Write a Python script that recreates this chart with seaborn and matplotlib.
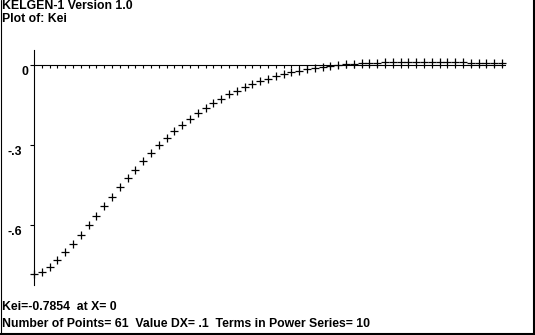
import matplotlib
matplotlib.use("Agg")
import matplotlib.pyplot as plt
import seaborn as sns
import pandas as pd
from matplotlib.lines import Line2D

x_vals = [0.0, 0.1, 0.2, 0.3, 0.4, 0.5, 0.6, 0.7, 0.8, 0.9,
          1.0, 1.1, 1.2, 1.3, 1.4, 1.5, 1.6, 1.7, 1.8, 1.9,
          2.0, 2.1, 2.2, 2.3, 2.4, 2.5, 2.6, 2.7, 2.8, 2.9,
          3.0, 3.1, 3.2, 3.3, 3.4, 3.5, 3.6, 3.7, 3.8, 3.9,
          4.0, 4.1, 4.2, 4.3, 4.4, 4.5, 4.6, 4.7, 4.8, 4.9,
          5.0, 5.1, 5.2, 5.3, 5.4, 5.5, 5.6, 5.7, 5.8, 5.9, 6.0]
kei_vals = [-0.7854, -0.7769, -0.7581, -0.7331, -0.7038, -0.6716, -0.6374, -0.6022, -0.5664, -0.5305,
            -0.4950, -0.4601, -0.4262, -0.3933, -0.3617, -0.3314, -0.3026, -0.2752, -0.2494, -0.2251,
            -0.2024, -0.1812, -0.1614, -0.1431, -0.1262, -0.1107, -0.0964, -0.0834, -0.0716, -0.0608,
            -0.0511, -0.0420, -0.0340, -0.0270, -0.0207, -0.0152, -0.0105, -0.0063, -0.0027, -0.0004,
            0.0029, 0.0050, 0.0067, 0.0081, 0.0092, 0.0100, 0.0106, 0.0110, 0.0112, 0.0113,
            0.0112, 0.0111, 0.0108, 0.0105, 0.0101, 0.0097, 0.0092, 0.0087, 0.0082, 0.0077, 0.0072]
y_ticks = [0.0, -0.3, -0.6]
y_tick_labels = ["0", "-.3", "-.6"]
title_lines = ["KELGEN-1 Version 1.0", "Plot of: Kei"]
footer_lines = ["Kei=-0.7854  at X= 0",
                "Number of Points= 61  Value DX= .1  Terms in Power Series= 10"]

sns.set_style("white")
plt.rcParams['font.family'] = ['Liberation Sans', 'DejaVu Sans']

W, H = 535, 335
fig = plt.figure(figsize=(W / 100, H / 100), dpi=100)
fig.patch.set_facecolor("white")
ax = fig.add_axes([0, 0, 1, 1])
ax.set_facecolor("white")

# pixel mapping: x=0 -> px 34, 78 px per unit; y=0 -> px 65, 266 px per unit
x0, xs = 34, 78.0
y0, ys = 65, 266.0
ax.set_xlim(-x0 / xs, (W - x0) / xs)
ax.set_ylim(-(H - y0) / ys, y0 / ys)

df = pd.DataFrame({"x": x_vals, "kei": kei_vals})
sns.scatterplot(data=df, x="x", y="kei", marker="+", s=30, color="black",
                linewidth=0.9, ax=ax, zorder=3)

# axes lines through origin
for s in ["top", "right"]:
    ax.spines[s].set_visible(False)
ax.spines["left"].set_position(("data", 0))
ax.spines["bottom"].set_position(("data", 0))
ax.spines["left"].set_bounds(-220 / ys, 15 / ys)
ax.spines["bottom"].set_bounds(0, 6.04)
for s in ["left", "bottom"]:
    ax.spines[s].set_linewidth(0.8)
    ax.spines[s].set_color("black")
    ax.spines[s].set_zorder(2)

ax.set_xticks(x_vals[1:])
ax.set_xticklabels([])
ax.set_yticks(y_ticks)
ax.set_yticklabels([])
ax.tick_params(axis="x", direction="out", length=2.2, width=0.8, color="black",
               bottom=True)
ax.tick_params(axis="y", direction="out", length=3.0, width=0.8, color="black",
               left=True)
ax.set_xlabel("")
ax.set_ylabel("")
ax.grid(False)

tfont = dict(fontsize=8.8, fontweight="bold", color="black")
for v, lbl in zip(y_ticks, y_tick_labels):
    dx = -12 if lbl == "0" else -27
    ax.annotate(lbl, xy=(0, v), xytext=(dx, -7), textcoords="offset pixels",
                ha="left", va="center", **tfont)

fig.text(2 / W, 1 - 6 / H, title_lines[0], ha="left", va="center", **tfont)
fig.text(2 / W, 1 - 19 / H, title_lines[1], ha="left", va="center", **tfont)
fig.text(2 / W, 1 - 307 / H, footer_lines[0], ha="left", va="center", **tfont)
fig.text(2 / W, 1 - 324 / H, footer_lines[1], ha="left", va="center", **tfont)

# window border
fig.add_artist(Line2D([0.5 / W, 0.5 / W], [0, 1], transform=fig.transFigure,
                      color="black", lw=0.8))
fig.add_artist(Line2D([533.5 / W, 533.5 / W], [0, 1], transform=fig.transFigure,
                      color="black", lw=1.5))
fig.add_artist(Line2D([0, 1], [1 - 333.5 / H, 1 - 333.5 / H], transform=fig.transFigure,
                      color="black", lw=1.5))

fig.savefig("out.png", dpi=100, facecolor="white")
